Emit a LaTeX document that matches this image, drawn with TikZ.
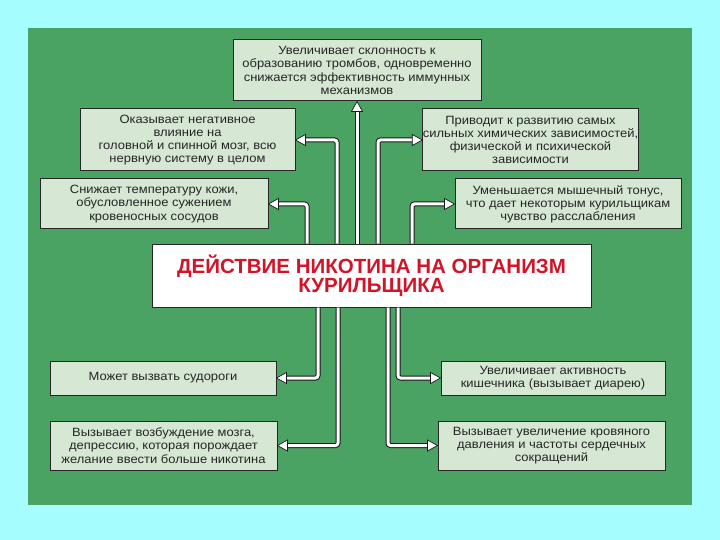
\documentclass[tikz,border=0pt]{standalone}
\usepackage{fontspec}
\setmainfont{Liberation Sans}
\newfontfamily\boxfont[FakeStretch=1.08]{Liberation Sans}
\definecolor{bgcyan}{RGB}{165,253,253}
\definecolor{panelgreen}{RGB}{74,163,99}
\definecolor{boxfill}{RGB}{214,231,212}
\definecolor{titlered}{RGB}{210,20,40}
\tikzset{
  infobox/.style={draw=black!85, line width=1pt, fill=boxfill, inner sep=0pt, align=center,
    font=\boxfont\fontsize{12}{13.2}\selectfont, text=black!85},
  conn/.style={draw=white, line width=3pt, rounded corners=2.5pt, preaction={draw=black!90, line width=5pt}},
  tipR/.pic={\filldraw[fill=white,draw=black!90,line width=0.7pt,line join=miter] (0,0) -- (-10,-5.5) -- (-10,5.5) -- cycle;},
  tipL/.pic={\filldraw[fill=white,draw=black!90,line width=0.7pt,line join=miter] (0,0) -- (10,-5.5) -- (10,5.5) -- cycle;},
  tipU/.pic={\filldraw[fill=white,draw=black!90,line width=0.7pt,line join=miter] (0,0) -- (-5.5,10) -- (5.5,10) -- cycle;}
}
\begin{document}
\begin{tikzpicture}[x=1pt,y=-1pt]
\useasboundingbox (0,0) rectangle (720,540);
\fill[bgcyan] (0,0) rectangle (720,540);
\fill[panelgreen] (28,28) rectangle (692,505);

\node[infobox, minimum width=248pt, minimum height=61pt] (top) at (357,70.5)
  {Увеличивает склонность к\\образованию тромбов, одновременно\\снижается эффективность иммунных\\механизмов};
\node[infobox, minimum width=215pt, minimum height=62pt] (l1) at (187.5,140)
  {Оказывает негативное\\влияние на\\головной и спинной мозг, всю\\нервную систему в целом};
\node[infobox, minimum width=228pt, minimum height=50pt] (l2) at (154,204)
  {Снижает температуру кожи,\\обусловленное сужением\\кровеносных сосудов};
\node[infobox, minimum width=215pt, minimum height=62pt] (r1) at (530.5,140)
  {Приводит к развитию самых\\сильных химических зависимостей,\\физической и психической\\зависимости};
\node[infobox, minimum width=226pt, minimum height=50pt] (r2) at (568,204)
  {Уменьшается мышечный тонус,\\что дает некоторым курильщикам\\чувство расслабления};
\node[infobox, minimum width=226pt, minimum height=34pt] (bl1) at (163,378)
  {Может вызвать судороги};
\node[infobox, minimum width=227pt, minimum height=49pt] (bl2) at (163.5,445.5)
  {Вызывает возбуждение мозга,\\депрессию, которая порождает\\желание ввести больше никотина};
\node[infobox, minimum width=224pt, minimum height=34pt] (br1) at (553,378)
  {Увеличивает активность\\кишечника (вызывает диарею)};
\node[infobox, minimum width=227pt, minimum height=49pt] (br2) at (551.5,445.5)
  {Вызывает увеличение кровяного\\давления и частоты сердечных\\сокращений};
\node[draw=black!85, line width=1pt, fill=white, minimum width=439pt, minimum height=63pt, inner sep=0pt,
  align=center, text=titlered, font=\fontsize{20.5}{19}\selectfont\bfseries] (c) at (371.5,275.5)
  {ДЕЙСТВИЕ НИКОТИНА НА ОРГАНИЗМ\\КУРИЛЬЩИКА};

\coordinate (xa) at (307,0);
\coordinate (xb) at (337,0);
\coordinate (xc) at (357,0);
\coordinate (xd) at (378,0);
\coordinate (xe) at (412,0);
\coordinate (xf) at (318,0);
\coordinate (xg) at (338,0);
\coordinate (xh) at (388,0);
\coordinate (xi) at (398,0);

\draw[conn] (c.north -| xc) -- ([yshift=-9pt]top.south -| xc);
\draw[conn] (c.north -| xb) |- ([xshift=9pt]l1.east);
\draw[conn] (c.north -| xa) |- ([xshift=9pt]l2.east);
\draw[conn] (c.north -| xd) |- ([xshift=-9pt]r1.west);
\draw[conn] (c.north -| xe) |- ([xshift=-9pt]r2.west);
\draw[conn] (c.south -| xf) |- ([xshift=9pt]bl1.east);
\draw[conn] (c.south -| xg) |- ([xshift=9pt]bl2.east);
\draw[conn] (c.south -| xi) |- ([xshift=-9pt]br1.west);
\draw[conn] (c.south -| xh) |- ([xshift=-9pt]br2.west);

\pic at (top.south -| xc) {tipU};
\pic at (l1.east) {tipL};
\pic at (l2.east) {tipL};
\pic at (r1.west) {tipR};
\pic at (r2.west) {tipR};
\pic at (bl1.east) {tipL};
\pic at (bl2.east) {tipL};
\pic at (br1.west) {tipR};
\pic at (br2.west) {tipR};
\end{tikzpicture}
\end{document}
